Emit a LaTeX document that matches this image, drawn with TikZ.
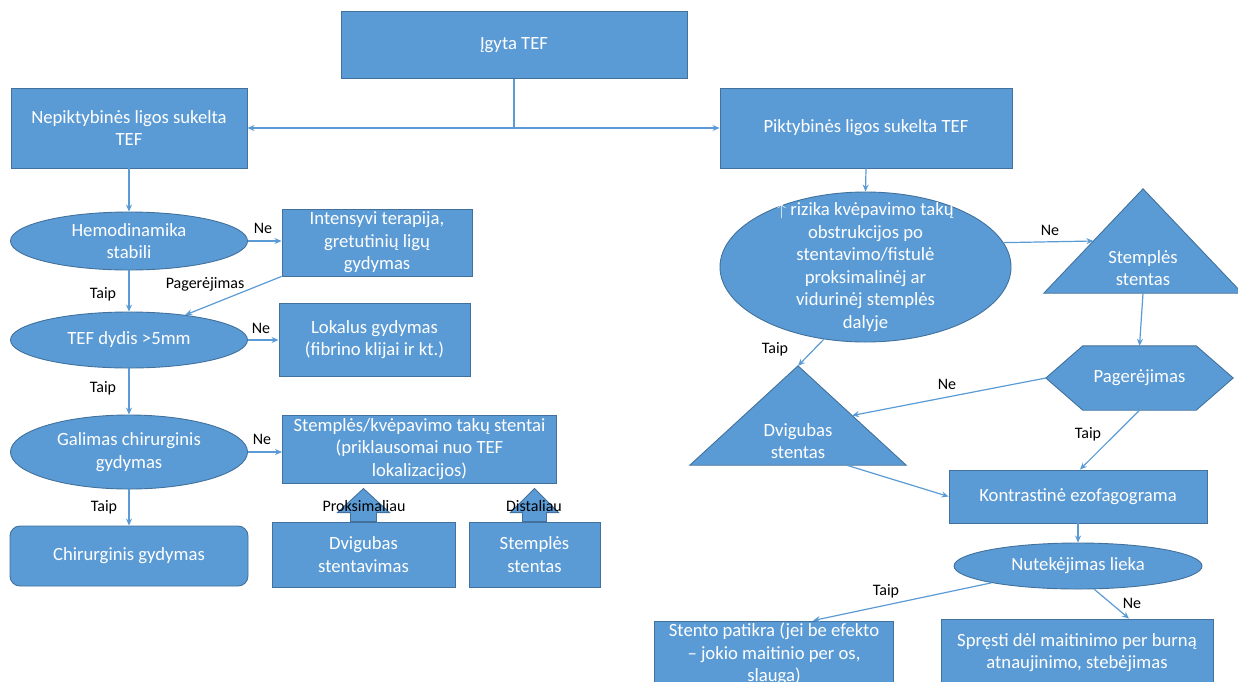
\documentclass[tikz,border=0pt]{standalone}
\usepackage{fontspec}
\setmainfont{Carlito}
\usetikzlibrary{shapes.geometric,arrows.meta,calc}
\definecolor{tefblue}{RGB}{91,155,213}
\definecolor{tefedge}{RGB}{65,113,156}
\begin{document}
\begin{tikzpicture}[x=1pt,y=-1pt,>={Stealth[length=7pt,width=6pt]},
    every node/.style={inner sep=0pt},
    txt/.style={text=white,align=center,font=\fontsize{18.67}{22.5}\selectfont},
    box/.style={txt,rectangle,draw=tefedge,fill=tefblue,line width=0.9pt},
    oval/.style={txt,ellipse,draw=tefedge,fill=tefblue,line width=0.9pt},
    ghost/.style={rectangle},
    tefshape/.style={draw=tefedge,fill=tefblue,line width=0.9pt},
    link/.style={draw=tefblue,line width=1.2pt,->},
    lbl/.style={text=black,font=\fontsize{16}{19}\selectfont}]
\useasboundingbox (0,0) rectangle (1238,681);
\clip (0,0) rectangle (1238,681);

\node[box,minimum width=346,minimum height=67] (igyta) at (514,45) {Įgyta TEF};
\node[box,minimum width=236,minimum height=80] (nepik) at (129,128) {Nepiktybinės ligos sukelta\\TEF};
\node[box,minimum width=292,minimum height=80] (pikt) at (866,128) {Piktybinės ligos sukelta TEF};

\node[oval,minimum width=237,minimum height=58,label={[txt]center:Hemodinamika\\stabili}] (hemo) at (129,241) {};
\node[box,minimum width=190,minimum height=67] (intens) at (377,242.5) {Intensyvi terapija,\\gretutinių ligų\\gydymas};
\node[oval,minimum width=237,minimum height=56,label={[txt]center:TEF dydis >5mm}] (dydis) at (129,340) {};
\node[box,minimum width=191,minimum height=73] (lokal) at (374.5,339.5) {Lokalus gydymas\\(fibrino klijai ir kt.)};
\node[oval,minimum width=237,minimum height=74,label={[txt]center:Galimas chirurginis\\gydymas}] (galim) at (129,452) {};
\node[box,minimum width=274,minimum height=68] (stentai) at (419.5,449) {Stemplės/kvėpavimo takų stentai\\(priklausomai nuo TEF\\lokalizacijos)};
\node[box,rounded corners=10pt,minimum width=238,minimum height=60] (chir) at (129,556) {Chirurginis gydymas};
\node[box,minimum width=183,minimum height=65] (dvigub) at (363.5,554.5) {Dvigubas\\stentavimas};
\node[box,minimum width=131,minimum height=65] (stempl) at (534.5,554.5) {Stemplės\\stentas};

\draw[tefshape] ([xshift=-13pt]dvigub.north) -- ++(0,-9) -- ++(-13,0) -- ++(26,-24) -- ++(26,24) -- ++(-13,0) -- ++(0,9) -- cycle;
\draw[tefshape] ([xshift=-12pt]stempl.north) -- ++(0,-9) -- ++(-12,0) -- ++(24,-24) -- ++(24,24) -- ++(-12,0) -- ++(0,9) -- cycle;

\node[oval,minimum width=291,minimum height=150,label={[txt]center:$\uparrow$ rizika kvėpavimo takų\\obstrukcijos po\\stentavimo/fistulė\\proksimalinėj ar\\vidurinėj stemplės\\dalyje}] (rizika) at (865.5,267) {};

\node[ghost,minimum width=198,minimum height=104] (sttri) at (1143,241) {};
\draw[tefshape] (sttri.south west) -- (sttri.north) -- (sttri.south east) -- cycle;
\node[txt] (sttritxt) at (1143,268) {Stemplės\\stentas};

\node[ghost,minimum width=187,minimum height=64] (hexa) at (1139.5,378) {};
\draw[tefshape] (hexa.west) -- ([xshift=37pt]hexa.north west) -- ([xshift=-37pt]hexa.north east) -- (hexa.east)
    -- ([xshift=-37pt]hexa.south east) -- ([xshift=37pt]hexa.south west) -- cycle;
\node[txt] (hexatxt) at (hexa) {Pagerėjimas};

\node[ghost,minimum width=216,minimum height=99] (dvtri) at (798,415.5) {};
\draw[tefshape] (dvtri.south west) -- (dvtri.north) -- (dvtri.south east) -- cycle;
\node[txt] (dvtritxt) at (798,441) {Dvigubas\\stentas};

\node[box,minimum width=258,minimum height=53] (kontr) at (1078,496.5) {Kontrastinė ezofagograma};
\node[oval,minimum width=248,minimum height=46,label={[txt]center:Nutekėjimas lieka}] (nutek) at (1078,566) {};
\node[box,minimum width=239,minimum height=66] (stento) at (774,654) {Stento patikra (jei be efekto\\– jokio maitinio per os,\\slauga)};
\node[box,minimum width=272,minimum height=67] (spresti) at (1077,652.5) {Spręsti dėl maitinimo per burną\\atnaujinimo, stebėjimas};

\draw[draw=tefblue,line width=1.2pt] (igyta.south) -- (igyta.south |- nepik.east);
\draw[link,<->] (nepik.east) -- (pikt.west);
\draw[link] (nepik.south) -- (hemo.north);
\draw[link] (hemo.east) -- (intens.west |- hemo.east);
\draw[link] (intens.south west) -- (dydis.24);
\draw[link] (hemo.south) -- (dydis.north);
\draw[link] (dydis.east) -- (lokal.west |- dydis.east);
\draw[link] (dydis.south) -- (galim.north);
\draw[link] (galim.east) -- (stentai.west |- galim.east);
\draw[link] (galim.south) -- (chir.north);

\draw[link] (pikt.south) -- (rizika.north);
\draw[link] (rizika.10) -- ($(sttri.south west)!0.5!(sttri.north)$);
\draw[link] (sttri.south) -- (hexa.north);
\draw[link] (hexa.west) -- ($(dvtri.north)!0.5!(dvtri.south east)$);
\draw[link] (rizika.240) -- (dvtri.north);
\draw[link] (hexa.south) -- ([xshift=2pt]kontr.north);
\draw[link] ($(dvtri.south west)!0.725!(dvtri.south east)$) -- (kontr.west);
\draw[link] (kontr.south) -- (nutek.north);
\draw[link] (nutek.191) -- ([xshift=39pt]stento.north);
\draw[link] (nutek.305) -- ([xshift=52pt]spresti.north);

\foreach \x/\y/\t [count=\i] in {263/228/Ne,205/284/Pagerėjimas,103/294/Taip,261/328/Ne,103/388/Taip,262/439/Ne,104/507/Taip,
    364/506/Proksimaliau,534/506/Distaliau,1050/230/Ne,775/349/Taip,947/384/Ne,1088/434/Taip,886/591/Taip,1132/603/Ne}
{
    \node[lbl] (lab\i) at (\x,\y) {\t};
}
\end{tikzpicture}
\end{document}
